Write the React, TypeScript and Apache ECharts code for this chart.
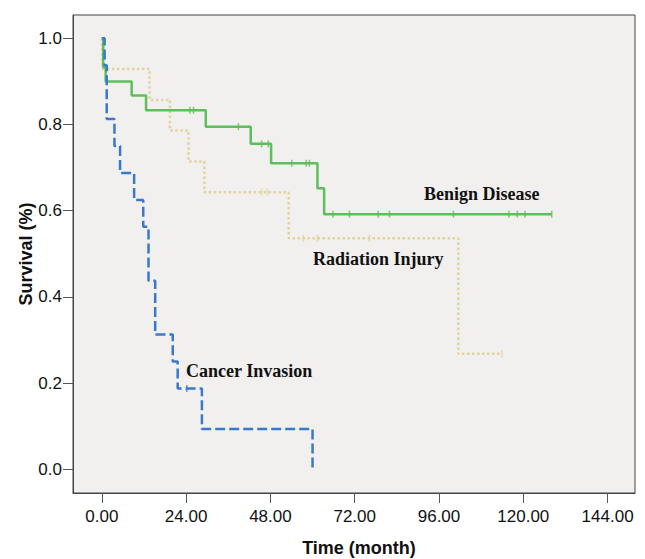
import React, { useEffect, useRef } from "react";
import * as echarts from "echarts";

// Time (months) at which each step begins, and survival after that time
const benignTimes = [0, 0.4, 1.1, 8.5, 12.6, 29.6, 42.4, 48.2, 61.4, 63.3, 128.1];
const benignSurv = [1, 0.933, 0.9, 0.867, 0.833, 0.795, 0.755, 0.71, 0.652, 0.592, 0.592];
const benignCensor = [25.1, 26.1, 38.9, 45.5, 47.4, 54.1, 58.2, 59.1, 65.8, 70.5, 78.7, 81.9, 100.1, 115.9, 118.3, 120.5, 128.1];

const radiationTimes = [0, 0.2, 13.6, 19.4, 24.7, 29.2, 53.2, 101.5, 113.9];
const radiationSurv = [1, 0.929, 0.857, 0.786, 0.714, 0.643, 0.536, 0.268, 0.268];
const radiationCensor = [45.5, 47.2, 57.4, 61.4, 76.2, 113.9];

const cancerTimes = [0, 0.8, 1.4, 3.6, 5.2, 9.2, 11.8, 13.3, 15.2, 20.2, 21.6, 28.5, 60];
const cancerSurv = [1, 0.9375, 0.8125, 0.75, 0.6875, 0.625, 0.5625, 0.4375, 0.3125, 0.25, 0.1875, 0.09375, 0];
const cancerCensor = [24.2];

const xTicks = [0, 24, 48, 72, 96, 120, 144];
const yTicks = [0, 0.2, 0.4, 0.6, 0.8, 1.0];

const seriesNames = ["Benign Disease", "Radiation Injury", "Cancer Invasion"];

function stepValue(times: number[], surv: number[], t: number): number {
  let v = surv[0];
  for (let i = 0; i < times.length; i++) {
    if (times[i] <= t) v = surv[i];
  }
  return v;
}

function pairs(times: number[], surv: number[]) {
  return times.map((t, i) => [t, surv[i]]);
}

function censorPts(times: number[], surv: number[], c: number[]) {
  return c.map((t) => [t, stepValue(times, surv, t)]);
}

const GREEN = "#5DBF5B";
const TAN = "#E2D39B";
const BLUE = "#3A78C9";
const SANS = "'Liberation Sans', Arial, sans-serif";
const SERIF = "'Liberation Serif', 'Times New Roman', serif";

export default function App() {
  const ref = useRef<HTMLDivElement>(null);
  useEffect(() => {
    if (!ref.current) return;
    const chart = echarts.init(ref.current, undefined, { renderer: "svg" });
    const option: any = {
      animation: false,
      backgroundColor: "#ffffff",
      grid: {
        left: 73,
        top: 15,
        right: 10,
        bottom: 66,
        show: true,
        backgroundColor: "#F1F0EF",
        borderColor: "#444",
        borderWidth: 1,
        containLabel: false,
        outerBoundsMode: "none",
      },
      xAxis: {
        type: "value",
        min: -8.2,
        max: 151.8,
        name: "Time (month)",
        nameLocation: "middle",
        nameGap: 46,
        nameMoveOverlap: false,
        nameTextStyle: {
          fontFamily: SANS,
          fontWeight: "bold",
          fontSize: 18,
          color: "#111",
          padding: [0, 0, 0, 10],
        },
        splitLine: { show: false },
        axisLine: { show: true, onZero: false, lineStyle: { color: "#444", width: 1 } },
        axisTick: {
          show: true,
          length: 10,
          customValues: xTicks,
          lineStyle: { color: "#555", width: 1 },
        },
        axisLabel: {
          customValues: xTicks,
          margin: 15,
          fontFamily: SANS,
          fontSize: 17,
          color: "#111",
          formatter: (v: number) => v.toFixed(2),
        },
      },
      yAxis: {
        type: "value",
        min: -0.055,
        max: 1.054,
        name: "Survival (%)",
        nameLocation: "middle",
        nameGap: 38,
        nameMoveOverlap: false,
        nameTextStyle: {
          fontFamily: SANS,
          fontWeight: "bold",
          fontSize: 18,
          color: "#111",
        },
        splitLine: { show: false },
        axisLine: { show: true, onZero: false, lineStyle: { color: "#444", width: 1 } },
        axisTick: {
          show: true,
          length: 10,
          customValues: yTicks,
          lineStyle: { color: "#555", width: 1 },
        },
        axisLabel: {
          customValues: yTicks,
          margin: 11,
          fontFamily: SANS,
          fontSize: 17,
          color: "#111",
          formatter: (v: number) => v.toFixed(1),
        },
      },
      series: [
        {
          name: seriesNames[1],
          type: "line",
          step: "end",
          symbol: "none",
          data: pairs(radiationTimes, radiationSurv),
          lineStyle: { color: TAN, width: 2.5, type: [2.5, 2.5] },
          z: 2,
        },
        {
          name: seriesNames[1] + " censored",
          type: "scatter",
          symbol: "rect",
          symbolSize: [1.5, 7],
          data: censorPts(radiationTimes, radiationSurv, radiationCensor),
          itemStyle: { color: TAN },
          z: 2,
        },
        {
          name: seriesNames[0],
          type: "line",
          step: "end",
          symbol: "none",
          data: pairs(benignTimes, benignSurv),
          lineStyle: { color: GREEN, width: 2.5 },
          z: 3,
        },
        {
          name: seriesNames[0] + " censored",
          type: "scatter",
          symbol: "rect",
          symbolSize: [1.5, 7],
          data: censorPts(benignTimes, benignSurv, benignCensor),
          itemStyle: { color: GREEN },
          z: 3,
        },
        {
          name: seriesNames[2],
          type: "line",
          step: "end",
          symbol: "none",
          data: pairs(cancerTimes, cancerSurv),
          lineStyle: { color: BLUE, width: 2.5, type: [10, 4] },
          z: 4,
        },
        {
          name: seriesNames[2] + " censored",
          type: "scatter",
          symbol: "rect",
          symbolSize: [1.5, 7],
          data: censorPts(cancerTimes, cancerSurv, cancerCensor),
          itemStyle: { color: BLUE },
          z: 4,
        },
      ],
      graphic: [
        {
          type: "text",
          x: 424,
          y: 194,
          z: 10,
          style: {
            text: seriesNames[0],
            font: `bold 18px ${SERIF}`,
            fill: "#111",
            verticalAlign: "middle",
          },
        },
        {
          type: "text",
          x: 313,
          y: 259,
          z: 10,
          style: {
            text: seriesNames[1],
            font: `bold 18px ${SERIF}`,
            fill: "#111",
            verticalAlign: "middle",
          },
        },
        {
          type: "text",
          x: 186,
          y: 371,
          z: 10,
          style: {
            text: seriesNames[2],
            font: `bold 18px ${SERIF}`,
            fill: "#111",
            verticalAlign: "middle",
          },
        },
      ],
    };
    chart.setOption(option);
    return () => chart.dispose();
  }, []);
  return (
    <div
      ref={ref}
      style={{ position: "fixed", left: 0, top: 0, width: 645, height: 559 }}
    />
  );
}
